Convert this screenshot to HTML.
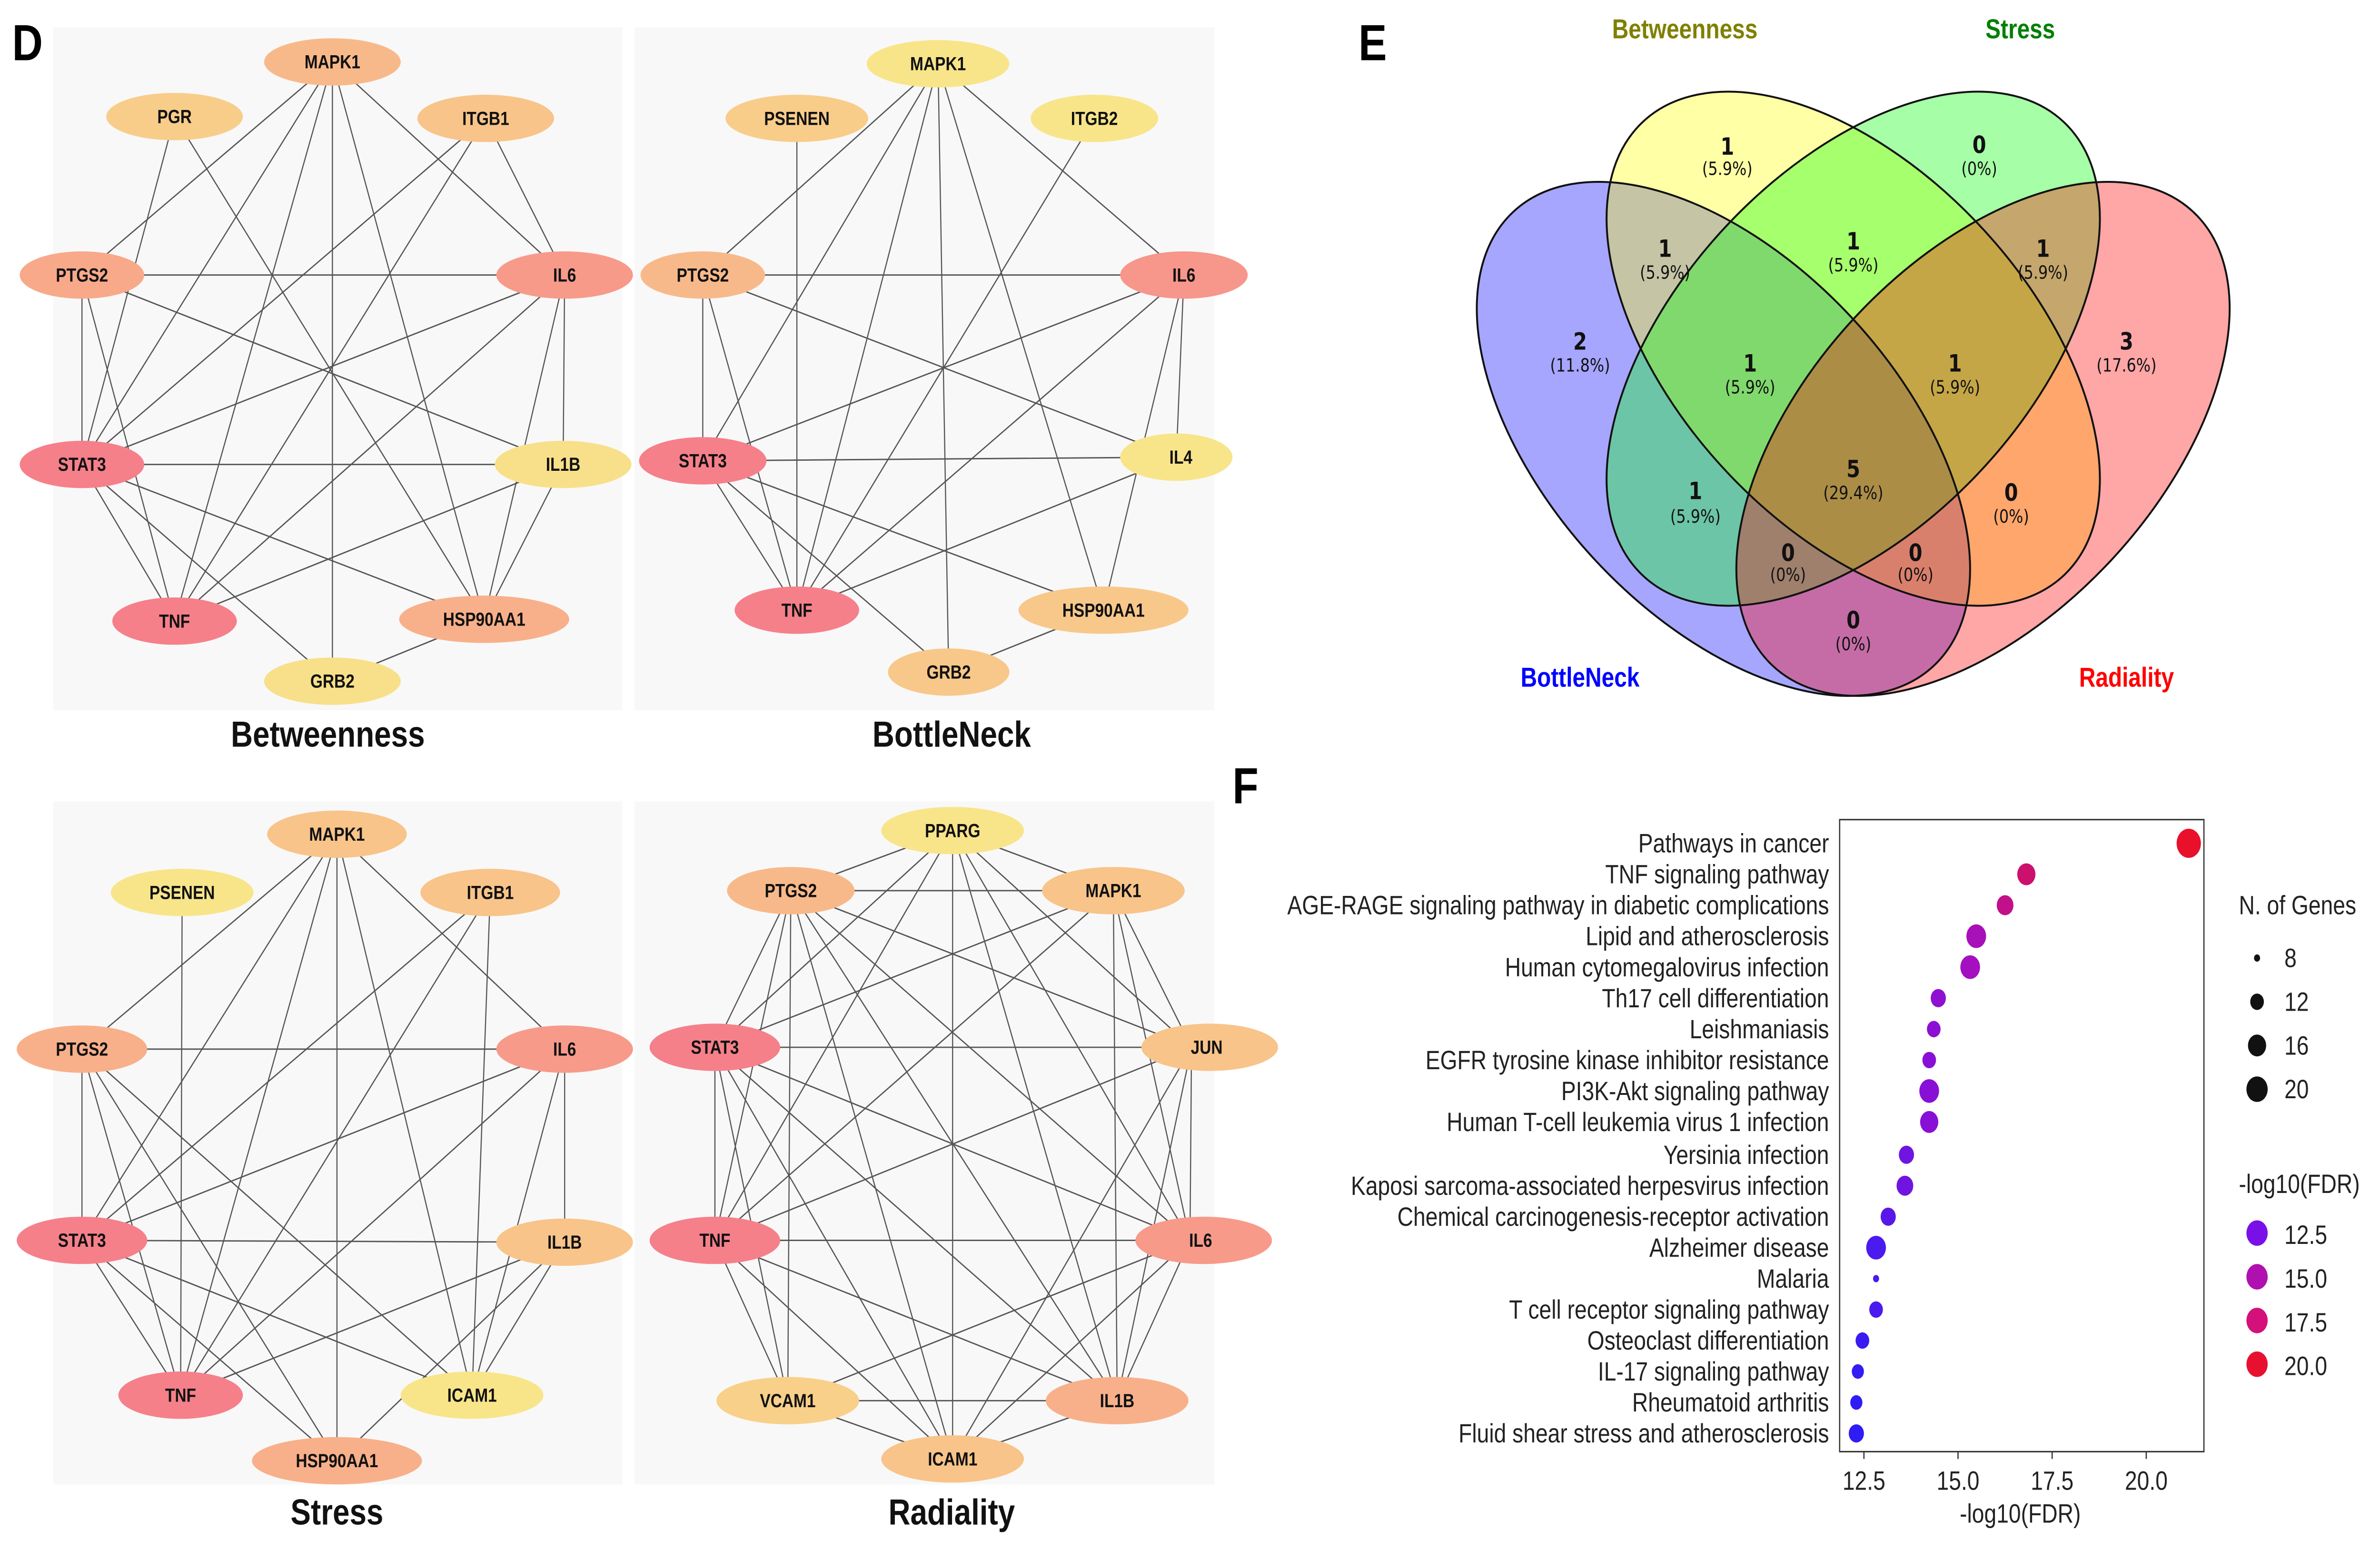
<!DOCTYPE html>
<html><head><meta charset="utf-8">
<style>
html,body{margin:0;padding:0;background:#fff;overflow:hidden;width:100vw;height:100vh;}
svg{display:block;width:100vw;height:100vh;}
.n text{font-family:"Liberation Sans",Arial,sans-serif;font-weight:bold;font-size:10.5px;text-anchor:middle;dominant-baseline:central;fill:#111;}
.e line{stroke:#555;stroke-width:0.75;}
.t{font-family:"Liberation Sans",Arial,sans-serif;font-weight:bold;font-size:20px;text-anchor:middle;fill:#111;}
.v text{font-family:"DejaVu Sans",sans-serif;text-anchor:middle;fill:#111;}
.v .a{font-size:13px;font-weight:bold;}
.v .b{font-size:10px;}
.f text{font-family:"Liberation Sans",Arial,sans-serif;font-size:14.5px;fill:#222;}
</style></head>
<body>
<svg viewBox="0 0 1568 851" preserveAspectRatio="none" xmlns="http://www.w3.org/2000/svg">
<rect width="1568" height="851" fill="#fff"/>
<rect x="35" y="15" width="375" height="375" fill="#f8f8f8"/>
<rect x="418" y="15" width="382" height="375" fill="#f8f8f8"/>
<rect x="35" y="440" width="375" height="375" fill="#f8f8f8"/>
<rect x="418" y="440" width="382" height="375" fill="#f8f8f8"/>

<text x="8" y="33" style="font-family:'Liberation Sans',Arial,sans-serif;font-weight:bold;font-size:28px">D</text>
<text x="895" y="33" style="font-family:'Liberation Sans',Arial,sans-serif;font-weight:bold;font-size:28px">E</text>
<text x="812" y="441" style="font-family:'Liberation Sans',Arial,sans-serif;font-weight:bold;font-size:28px">F</text>

<g class="e">
<line x1="219" y1="34" x2="54" y2="151"/><line x1="219" y1="34" x2="54" y2="255"/><line x1="219" y1="34" x2="115" y2="341"/>
<line x1="219" y1="34" x2="219" y2="374"/><line x1="219" y1="34" x2="319" y2="340"/><line x1="219" y1="34" x2="372" y2="151"/>
<line x1="115" y1="64" x2="54" y2="255"/><line x1="115" y1="64" x2="319" y2="340"/>
<line x1="320" y1="65" x2="54" y2="255"/><line x1="320" y1="65" x2="115" y2="341"/><line x1="320" y1="65" x2="372" y2="151"/>
<line x1="54" y1="151" x2="372" y2="151"/><line x1="54" y1="151" x2="371" y2="255"/><line x1="54" y1="151" x2="54" y2="255"/><line x1="54" y1="151" x2="115" y2="341"/>
<line x1="372" y1="151" x2="54" y2="255"/><line x1="372" y1="151" x2="115" y2="341"/><line x1="372" y1="151" x2="371" y2="255"/><line x1="372" y1="151" x2="319" y2="340"/>
<line x1="54" y1="255" x2="371" y2="255"/><line x1="54" y1="255" x2="115" y2="341"/><line x1="54" y1="255" x2="319" y2="340"/><line x1="54" y1="255" x2="219" y2="374"/>
<line x1="371" y1="255" x2="115" y2="341"/><line x1="371" y1="255" x2="319" y2="340"/><line x1="319" y1="340" x2="219" y2="374"/>
</g>
<g class="n">
<ellipse cx="219" cy="34" rx="45" ry="13" fill="#f8b98a"/><text x="219" y="34">MAPK1</text>
<ellipse cx="115" cy="64" rx="45" ry="13" fill="#f8cd8a"/><text x="115" y="64">PGR</text>
<ellipse cx="320" cy="65" rx="45" ry="13" fill="#f8c48a"/><text x="320" y="65">ITGB1</text>
<ellipse cx="54" cy="151" rx="41" ry="13" fill="#f8a98a"/><text x="54" y="151">PTGS2</text>
<ellipse cx="372" cy="151" rx="45" ry="13" fill="#f79a8a"/><text x="372" y="151">IL6</text>
<ellipse cx="54" cy="255" rx="41" ry="13" fill="#f5808a"/><text x="54" y="255">STAT3</text>
<ellipse cx="371" cy="255" rx="45" ry="13" fill="#f8e08a"/><text x="371" y="255">IL1B</text>
<ellipse cx="115" cy="341" rx="41" ry="13" fill="#f5808a"/><text x="115" y="341">TNF</text>
<ellipse cx="319" cy="340" rx="56" ry="13" fill="#f8b08a"/><text x="319" y="340">HSP90AA1</text>
<ellipse cx="219" cy="374" rx="45" ry="13" fill="#f8e08a"/><text x="219" y="374">GRB2</text>
</g>
<text class="t" x="216" y="410">Betweenness</text>

<g class="e">
<line x1="618" y1="35" x2="463" y2="151"/><line x1="618" y1="35" x2="463" y2="253"/><line x1="618" y1="35" x2="525" y2="335"/>
<line x1="618" y1="35" x2="625" y2="369"/><line x1="618" y1="35" x2="727" y2="335"/><line x1="618" y1="35" x2="780" y2="151"/>
<line x1="525" y1="65" x2="525" y2="335"/><line x1="721" y1="65" x2="525" y2="335"/>
<line x1="463" y1="151" x2="780" y2="151"/><line x1="463" y1="151" x2="463" y2="253"/><line x1="463" y1="151" x2="525" y2="335"/><line x1="463" y1="151" x2="775" y2="251"/>
<line x1="780" y1="151" x2="463" y2="253"/><line x1="780" y1="151" x2="525" y2="335"/><line x1="780" y1="151" x2="775" y2="251"/><line x1="780" y1="151" x2="727" y2="335"/>
<line x1="463" y1="253" x2="775" y2="251"/><line x1="463" y1="253" x2="525" y2="335"/><line x1="463" y1="253" x2="727" y2="335"/><line x1="463" y1="253" x2="625" y2="369"/>
<line x1="775" y1="251" x2="525" y2="335"/><line x1="727" y1="335" x2="625" y2="369"/>
</g>
<g class="n">
<ellipse cx="618" cy="35" rx="47" ry="13" fill="#f8e58a"/><text x="618" y="35">MAPK1</text>
<ellipse cx="525" cy="65" rx="47" ry="13" fill="#f8cd8a"/><text x="525" y="65">PSENEN</text>
<ellipse cx="721" cy="65" rx="42" ry="13" fill="#f8e58a"/><text x="721" y="65">ITGB2</text>
<ellipse cx="463" cy="151" rx="41" ry="13" fill="#f8b98a"/><text x="463" y="151">PTGS2</text>
<ellipse cx="780" cy="151" rx="42" ry="13" fill="#f7968a"/><text x="780" y="151">IL6</text>
<ellipse cx="463" cy="253" rx="42" ry="13" fill="#f5808a"/><text x="463" y="253">STAT3</text>
<ellipse cx="775" cy="251" rx="37" ry="13" fill="#f8e58a"/><text x="778" y="251">IL4</text>
<ellipse cx="525" cy="335" rx="41" ry="13" fill="#f5808a"/><text x="525" y="335">TNF</text>
<ellipse cx="727" cy="335" rx="56" ry="13" fill="#f8c88a"/><text x="727" y="335">HSP90AA1</text>
<ellipse cx="625" cy="369" rx="40" ry="13" fill="#f8c88a"/><text x="625" y="369">GRB2</text>
</g>
<text class="t" x="627" y="410">BottleNeck</text>

<g class="e">
<line x1="222" y1="458" x2="54" y2="576"/><line x1="222" y1="458" x2="54" y2="681"/><line x1="222" y1="458" x2="119" y2="766"/>
<line x1="222" y1="458" x2="222" y2="802"/><line x1="222" y1="458" x2="372" y2="576"/><line x1="222" y1="458" x2="311" y2="766"/>
<line x1="120" y1="490" x2="119" y2="766"/><line x1="323" y1="490" x2="54" y2="681"/><line x1="323" y1="490" x2="119" y2="766"/><line x1="323" y1="490" x2="311" y2="766"/>
<line x1="54" y1="576" x2="372" y2="576"/><line x1="54" y1="576" x2="54" y2="681"/><line x1="54" y1="576" x2="119" y2="766"/><line x1="54" y1="576" x2="311" y2="766"/><line x1="54" y1="576" x2="222" y2="802"/>
<line x1="372" y1="576" x2="54" y2="681"/><line x1="372" y1="576" x2="119" y2="766"/><line x1="372" y1="576" x2="372" y2="682"/><line x1="372" y1="576" x2="311" y2="766"/>
<line x1="54" y1="681" x2="372" y2="682"/><line x1="54" y1="681" x2="119" y2="766"/><line x1="54" y1="681" x2="222" y2="802"/><line x1="54" y1="681" x2="311" y2="766"/>
<line x1="119" y1="766" x2="372" y2="682"/><line x1="372" y1="682" x2="311" y2="766"/><line x1="372" y1="682" x2="222" y2="802"/>
</g>
<g class="n">
<ellipse cx="222" cy="458" rx="46" ry="13" fill="#f8c48a"/><text x="222" y="458">MAPK1</text>
<ellipse cx="120" cy="490" rx="47" ry="13" fill="#f8e58a"/><text x="120" y="490">PSENEN</text>
<ellipse cx="323" cy="490" rx="46" ry="13" fill="#f8c48a"/><text x="323" y="490">ITGB1</text>
<ellipse cx="54" cy="576" rx="43" ry="13" fill="#f8b08a"/><text x="54" y="576">PTGS2</text>
<ellipse cx="372" cy="576" rx="45" ry="13" fill="#f79a8a"/><text x="372" y="576">IL6</text>
<ellipse cx="54" cy="681" rx="43" ry="13" fill="#f5808a"/><text x="54" y="681">STAT3</text>
<ellipse cx="372" cy="682" rx="45" ry="13" fill="#f8c48a"/><text x="372" y="682">IL1B</text>
<ellipse cx="119" cy="766" rx="41" ry="13" fill="#f5808a"/><text x="119" y="766">TNF</text>
<ellipse cx="311" cy="766" rx="47" ry="13" fill="#f8e58a"/><text x="311" y="766">ICAM1</text>
<ellipse cx="222" cy="802" rx="56" ry="13" fill="#f8b08a"/><text x="222" y="802">HSP90AA1</text>
</g>
<text class="t" x="222" y="837">Stress</text>

<g class="e">
<line x1="627.6" y1="456" x2="521" y2="489"/><line x1="627.6" y1="456" x2="733.5" y2="489"/><line x1="627.6" y1="456" x2="471" y2="575"/><line x1="627.6" y1="456" x2="785" y2="575"/>
<line x1="627.6" y1="456" x2="471" y2="681"/><line x1="627.6" y1="456" x2="784" y2="681"/><line x1="627.6" y1="456" x2="736" y2="769"/><line x1="627.6" y1="456" x2="627.6" y2="801"/>
<line x1="521" y1="489" x2="733.5" y2="489"/><line x1="521" y1="489" x2="471" y2="575"/><line x1="521" y1="489" x2="785" y2="575"/><line x1="521" y1="489" x2="471" y2="681"/>
<line x1="521" y1="489" x2="784" y2="681"/><line x1="521" y1="489" x2="519" y2="769"/><line x1="521" y1="489" x2="736" y2="769"/><line x1="521" y1="489" x2="627.6" y2="801"/>
<line x1="733.5" y1="489" x2="471" y2="575"/><line x1="733.5" y1="489" x2="785" y2="575"/><line x1="733.5" y1="489" x2="471" y2="681"/><line x1="733.5" y1="489" x2="784" y2="681"/><line x1="733.5" y1="489" x2="736" y2="769"/>
<line x1="471" y1="575" x2="785" y2="575"/><line x1="471" y1="575" x2="471" y2="681"/><line x1="471" y1="575" x2="784" y2="681"/><line x1="471" y1="575" x2="519" y2="769"/>
<line x1="471" y1="575" x2="736" y2="769"/><line x1="471" y1="575" x2="627.6" y2="801"/>
<line x1="785" y1="575" x2="471" y2="681"/><line x1="785" y1="575" x2="784" y2="681"/><line x1="785" y1="575" x2="736" y2="769"/><line x1="785" y1="575" x2="627.6" y2="801"/>
<line x1="471" y1="681" x2="784" y2="681"/><line x1="471" y1="681" x2="519" y2="769"/><line x1="471" y1="681" x2="736" y2="769"/><line x1="471" y1="681" x2="627.6" y2="801"/>
<line x1="784" y1="681" x2="519" y2="769"/><line x1="784" y1="681" x2="736" y2="769"/><line x1="784" y1="681" x2="627.6" y2="801"/>
<line x1="519" y1="769" x2="736" y2="769"/><line x1="519" y1="769" x2="627.6" y2="801"/><line x1="736" y1="769" x2="627.6" y2="801"/>
</g>
<g class="n">
<ellipse cx="627.6" cy="456" rx="47" ry="13" fill="#f8e58a"/><text x="627.6" y="456">PPARG</text>
<ellipse cx="521" cy="489" rx="42" ry="13" fill="#f8b98a"/><text x="521" y="489">PTGS2</text>
<ellipse cx="733.5" cy="489" rx="47" ry="13" fill="#f8c48a"/><text x="733.5" y="489">MAPK1</text>
<ellipse cx="471" cy="575" rx="43" ry="13" fill="#f5808a"/><text x="471" y="575">STAT3</text>
<ellipse cx="797" cy="575" rx="45" ry="13" fill="#f8c48a"/><text x="795" y="575">JUN</text>
<ellipse cx="471" cy="681" rx="43" ry="13" fill="#f5808a"/><text x="471" y="681">TNF</text>
<ellipse cx="793" cy="681" rx="45" ry="13" fill="#f79a8a"/><text x="791" y="681">IL6</text>
<ellipse cx="519" cy="769" rx="47" ry="13" fill="#f8d08a"/><text x="519" y="769">VCAM1</text>
<ellipse cx="736" cy="769" rx="47" ry="13" fill="#f8b08a"/><text x="736" y="769">IL1B</text>
<ellipse cx="627.6" cy="801" rx="47" ry="13" fill="#f8c48a"/><text x="627.6" y="801">ICAM1</text>
</g>
<text class="t" x="627" y="837">Radiality</text>

<g transform="matrix(570 0 0 -495 935.95 473.6)">
<ellipse cx="0" cy="0" rx="0.35" ry="0.2" transform="translate(0.35,0.47) rotate(135)" fill="#0000ff" fill-opacity="0.35"/>
<ellipse cx="0" cy="0" rx="0.35" ry="0.2" transform="translate(0.5,0.57) rotate(135)" fill="#ffff00" fill-opacity="0.35"/>
<ellipse cx="0" cy="0" rx="0.35" ry="0.2" transform="translate(0.5,0.57) rotate(45)" fill="#00ff00" fill-opacity="0.35"/>
<ellipse cx="0" cy="0" rx="0.35" ry="0.2" transform="translate(0.65,0.47) rotate(45)" fill="#ff0000" fill-opacity="0.35"/>
<g fill="none" stroke="#111" stroke-width="4" vector-effect="non-scaling-stroke">
<ellipse cx="0" cy="0" rx="0.35" ry="0.2" transform="translate(0.35,0.47) rotate(135)" vector-effect="non-scaling-stroke"/>
<ellipse cx="0" cy="0" rx="0.35" ry="0.2" transform="translate(0.5,0.57) rotate(135)" vector-effect="non-scaling-stroke"/>
<ellipse cx="0" cy="0" rx="0.35" ry="0.2" transform="translate(0.5,0.57) rotate(45)" vector-effect="non-scaling-stroke"/>
<ellipse cx="0" cy="0" rx="0.35" ry="0.2" transform="translate(0.65,0.47) rotate(45)" vector-effect="non-scaling-stroke"/>
</g>
</g>
<g class="v">
<text class="a" x="1138" y="85">1</text><text class="b" x="1138" y="96">(5.9%)</text>
<text class="a" x="1304" y="84">0</text><text class="b" x="1304" y="96">(0%)</text>
<text class="a" x="1097" y="141">1</text><text class="b" x="1097" y="153">(5.9%)</text>
<text class="a" x="1221" y="137">1</text><text class="b" x="1221" y="149">(5.9%)</text>
<text class="a" x="1346" y="141">1</text><text class="b" x="1346" y="153">(5.9%)</text>
<text class="a" x="1041" y="192">2</text><text class="b" x="1041" y="204">(11.8%)</text>
<text class="a" x="1401" y="192">3</text><text class="b" x="1401" y="204">(17.6%)</text>
<text class="a" x="1153" y="204">1</text><text class="b" x="1153" y="216">(5.9%)</text>
<text class="a" x="1288" y="204">1</text><text class="b" x="1288" y="216">(5.9%)</text>
<text class="a" x="1221" y="262">5</text><text class="b" x="1221" y="274">(29.4%)</text>
<text class="a" x="1117" y="274">1</text><text class="b" x="1117" y="287">(5.9%)</text>
<text class="a" x="1325" y="275">0</text><text class="b" x="1325" y="287">(0%)</text>
<text class="a" x="1178" y="308">0</text><text class="b" x="1178" y="319">(0%)</text>
<text class="a" x="1262" y="308">0</text><text class="b" x="1262" y="319">(0%)</text>
<text class="a" x="1221" y="345">0</text><text class="b" x="1221" y="357">(0%)</text>
</g>
<g style="font-family:'Liberation Sans',Arial,sans-serif;font-weight:bold;font-size:15px;text-anchor:middle">
<text x="1110" y="21" fill="#808000">Betweenness</text>
<text x="1331" y="21" fill="#008000">Stress</text>
<text x="1041" y="377" fill="#0000ff">BottleNeck</text>
<text x="1401" y="377" fill="#ff0000">Radiality</text>
</g>

<rect x="1212" y="450" width="240" height="347" fill="#fff" stroke="#333" stroke-width="0.8"/>
<g stroke="#333" stroke-width="0.8">
<line x1="1228" y1="797" x2="1228" y2="801"/><line x1="1290" y1="797" x2="1290" y2="801"/>
<line x1="1352" y1="797" x2="1352" y2="801"/><line x1="1414" y1="797" x2="1414" y2="801"/>
</g>
<g class="f">
<text x="1228" y="818" text-anchor="middle">12.5</text><text x="1290" y="818" text-anchor="middle">15.0</text>
<text x="1352" y="818" text-anchor="middle">17.5</text><text x="1414" y="818" text-anchor="middle">20.0</text>
<text x="1331" y="836" text-anchor="middle">-log10(FDR)</text>
<g text-anchor="end">
<text x="1205" y="468">Pathways in cancer</text>
<text x="1205" y="485">TNF signaling pathway</text>
<text x="1205" y="502">AGE-RAGE signaling pathway in diabetic complications</text>
<text x="1205" y="519">Lipid and atherosclerosis</text>
<text x="1205" y="536">Human cytomegalovirus infection</text>
<text x="1205" y="553">Th17 cell differentiation</text>
<text x="1205" y="570">Leishmaniasis</text>
<text x="1205" y="587">EGFR tyrosine kinase inhibitor resistance</text>
<text x="1205" y="604">PI3K-Akt signaling pathway</text>
<text x="1205" y="621">Human T-cell leukemia virus 1 infection</text>
<text x="1205" y="639">Yersinia infection</text>
<text x="1205" y="656">Kaposi sarcoma-associated herpesvirus infection</text>
<text x="1205" y="673">Chemical carcinogenesis-receptor activation</text>
<text x="1205" y="690">Alzheimer disease</text>
<text x="1205" y="707">Malaria</text>
<text x="1205" y="724">T cell receptor signaling pathway</text>
<text x="1205" y="741">Osteoclast differentiation</text>
<text x="1205" y="758">IL-17 signaling pathway</text>
<text x="1205" y="775">Rheumatoid arthritis</text>
<text x="1205" y="792">Fluid shear stress and atherosclerosis</text>
</g>
<text x="1475" y="502">N. of Genes</text>
<text x="1505" y="531">8</text><text x="1505" y="555">12</text><text x="1505" y="579">16</text><text x="1505" y="603">20</text>
<text x="1475" y="655">-log10(FDR)</text>
<text x="1505" y="683">12.5</text><text x="1505" y="707">15.0</text><text x="1505" y="731">17.5</text><text x="1505" y="755">20.0</text>
</g>
<g>
<circle cx="1442" cy="463" r="8" fill="#e8102a"/>
<circle cx="1335" cy="480" r="6" fill="#cc106e"/>
<circle cx="1321" cy="497" r="5.5" fill="#c2108a"/>
<circle cx="1302" cy="514" r="6.5" fill="#a810b8"/>
<circle cx="1298" cy="531" r="6.5" fill="#a410c0"/>
<circle cx="1277" cy="548" r="5" fill="#9010d0"/>
<circle cx="1274" cy="565" r="4.5" fill="#8c10d4"/>
<circle cx="1271" cy="582" r="4.5" fill="#8810d6"/>
<circle cx="1271" cy="599" r="6.5" fill="#8810d6"/>
<circle cx="1271" cy="616" r="6" fill="#8810d6"/>
<circle cx="1256" cy="634" r="5" fill="#7014e0"/>
<circle cx="1255" cy="651" r="5.5" fill="#7014e0"/>
<circle cx="1244" cy="668" r="5" fill="#5a18e8"/>
<circle cx="1236" cy="685" r="6.5" fill="#4a1aee"/>
<circle cx="1236" cy="702" r="2" fill="#4a1aee"/>
<circle cx="1236" cy="719" r="4.5" fill="#4a1aee"/>
<circle cx="1227" cy="736" r="4.5" fill="#3a1cf2"/>
<circle cx="1224" cy="753" r="4" fill="#341cf4"/>
<circle cx="1223" cy="770" r="4" fill="#301cf5"/>
<circle cx="1223" cy="787" r="5" fill="#301cf5"/>
<circle cx="1487" cy="526" r="2" fill="#111"/>
<circle cx="1487" cy="550" r="4.5" fill="#111"/>
<circle cx="1487" cy="574" r="6" fill="#111"/>
<circle cx="1487" cy="598" r="7" fill="#111"/>
<circle cx="1487" cy="677" r="7" fill="#7a10e8"/>
<circle cx="1487" cy="701" r="7" fill="#b010b0"/>
<circle cx="1487" cy="725" r="7" fill="#d4107a"/>
<circle cx="1487" cy="749" r="7" fill="#e81030"/>
</g>
</svg>
</body></html>
